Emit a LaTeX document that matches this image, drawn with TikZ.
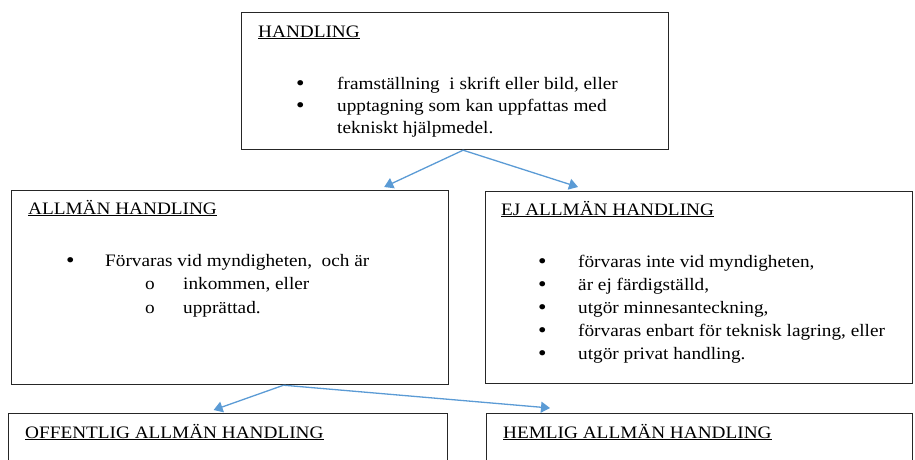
\documentclass[tikz,border=0pt]{standalone}
\usepackage{fontspec}
\setmainfont{Liberation Serif}
\newfontfamily\tnr{Liberation Serif}[FakeStretch=1.1]
\usetikzlibrary{arrows.meta}
\definecolor{linkblue}{HTML}{5B9BD5}

\begin{document}
\begin{tikzpicture}[
	x=1pt, y=-1pt,
	box/.style={draw=black!85, line width=1.2pt, anchor=north west, inner sep=0pt},
	txt/.style={anchor=base west, inner sep=0pt, font=\tnr\fontsize{17.5}{23}\selectfont},
	dot/.style={txt, font=\tnr\fontsize{22}{22}\selectfont},
	link/.style={draw=linkblue, line width=1.3pt, -{Triangle[length=9pt,width=11pt]}}]
\useasboundingbox (0,0) rectangle (915,459);
\clip (0,0) rectangle (915,459);
\node[box, minimum width=427pt, minimum height=137pt] (handling) at (241,12) {};
\node[box, minimum width=437pt, minimum height=194pt] (allman) at (11,190) {};
\node[box, minimum width=427pt, minimum height=192pt] (ej) at (485,191) {};
\node[box, minimum width=439pt, minimum height=90pt] (offentlig) at (8,413) {};
\node[box, minimum width=426pt, minimum height=90pt] (hemlig) at (486,413) {};

\node[txt] (handling-title) at (258,37) {\underline{HANDLING}};
\foreach \t [count=\i] in {{framställning\ \ i skrift eller bild, eller},{upptagning som kan uppfattas med}}
	{\node[dot] (handling-dot\i) at (296,90+22*\i-22) {•};
	 \node[txt] (handling-item\i) at (337,89+22*\i-22) {\t};}
\node[txt] (handling-item3) at (337,133) {tekniskt hjälpmedel.};

\node[txt] (allman-title) at (28,214) {\underline{ALLMÄN HANDLING}};
\node[dot] (allman-dot) at (66,267) {•};
\node[txt] (allman-item) at (105,266) {Förvaras vid myndigheten,\ \ och är};
\foreach \t [count=\i] in {{inkommen, eller},{upprättad.}}
	{\node[txt] (allman-o\i) at (145,266+23.5*\i) {o};
	 \node[txt] (allman-sub\i) at (183,266+23.5*\i) {\t};}

\node[txt] (ej-title) at (501,215) {\underline{EJ ALLMÄN HANDLING}};
\foreach \t [count=\i] in {{förvaras inte vid myndigheten,},{är ej färdigställd,},{utgör minnesanteckning,},{förvaras enbart för teknisk lagring, eller},{utgör privat handling.}}
	{\node[dot] (ej-dot\i) at (538,268+23.2*\i-23.2) {•};
	 \node[txt] (ej-item\i) at (578,267+23.2*\i-23.2) {\t};}

\node[txt] (offentlig-title) at (25,438) {\underline{OFFENTLIG ALLMÄN HANDLING}};
\node[txt] (hemlig-title) at (503,438) {\underline{HEMLIG ALLMÄN HANDLING}};

\draw[link] ([xshift=8pt]handling.south) -- ([xshift=-65pt,yshift=3pt]allman.north east);
\draw[link] ([xshift=8pt]handling.south) -- ([xshift=93pt,yshift=4pt]ej.north west);
\draw[link] ([xshift=53.5pt]allman.south) -- ([xshift=-14.5pt,yshift=3pt]offentlig.north);
\draw[link] ([xshift=53.5pt]allman.south) -- ([xshift=64pt,yshift=5pt]hemlig.north west);
\end{tikzpicture}
\end{document}
